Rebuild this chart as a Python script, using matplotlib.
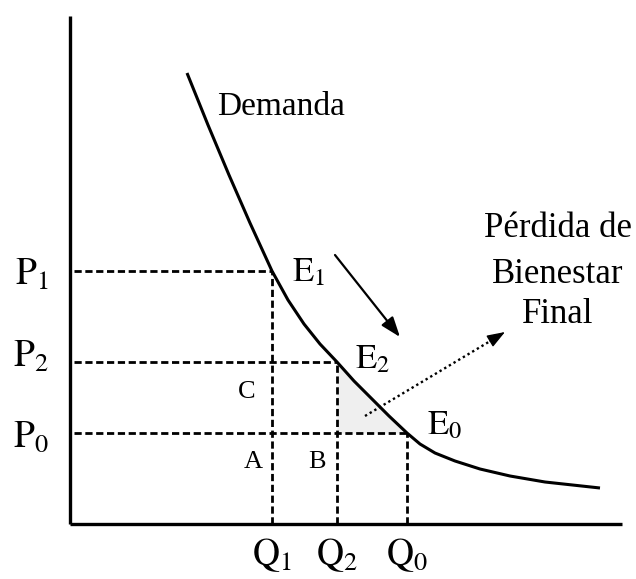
import matplotlib.pyplot as plt

plt.rcParams['font.family'] = ['Liberation Serif', 'DejaVu Serif']
plt.rcParams['mathtext.fontset'] = 'stix'

# Demand curve (quantity, price), origin at the axes corner
demand_q = [117, 138, 159, 180, 202, 218, 234, 250, 267, 284, 301, 319, 337,
            350, 365, 385, 410, 440, 475, 530]
demand_p = [451, 399, 349, 301, 253, 224, 200, 180, 162, 143, 126, 108, 91,
            80, 71, 63, 55, 48, 42, 36]

# Equilibrium points
q_levels = {'Q1': 202, 'Q2': 267, 'Q0': 337}
p_levels = {'P1': 253, 'P2': 162, 'P0': 91}

fig = plt.figure(figsize=(6.36, 5.79), dpi=100)
ax = fig.add_axes([0, 0, 1, 1])
ax.set_xlim(-70, 566)
ax.set_ylim(-55, 524)
ax.axis('off')

# Axes
ax.plot([0, 0], [0, 508], color='black', lw=2.4, solid_capstyle='butt')
ax.plot([0, 552], [0, 0], color='black', lw=2.4, solid_capstyle='butt')

# Shaded welfare loss triangle
tri_q = [q for q in demand_q if q_levels['Q2'] <= q <= q_levels['Q0']]
tri_p = [p for q, p in zip(demand_q, demand_p) if q_levels['Q2'] <= q <= q_levels['Q0']]
ax.fill_between(tri_q, tri_p, p_levels['P0'], color='#efefef', lw=0)

# Dashed guide lines
dash = dict(color='black', lw=2.0, linestyle=(0, (2.6, 1.3)))
for qk, pk in [('Q1', 'P1'), ('Q2', 'P2'), ('Q0', 'P0')]:
    q, p = q_levels[qk], p_levels[pk]
    ax.plot([4, q], [p, p], **dash)
    ax.plot([q, q], [0, p], **dash)

# Demand curve
ax.plot(demand_q, demand_p, color='black', lw=2.2, solid_capstyle='butt',
        solid_joinstyle='round')

# Arrows
ax.annotate('', xy=(330, 187), xytext=(265, 269),
            arrowprops=dict(arrowstyle='-|>,head_length=0.55,head_width=0.2',
                            color='black', lw=1.6, mutation_scale=22,
                            shrinkA=0, shrinkB=0))
ax.plot([295, 427], [108, 187], color='black', lw=1.7, linestyle=(0, (1, 1.3)))
ax.annotate('', xy=(435, 192), xytext=(420, 183),
            arrowprops=dict(arrowstyle='-|>,head_length=0.55,head_width=0.2',
                            color='black', lw=1.0, mutation_scale=20,
                            shrinkA=0, shrinkB=0))

# Axis labels
ax.text(-21, 239, r'$\mathrm{P}_1$', fontsize=27, ha='right', va='baseline')
ax.text(-21, 157, r'$\mathrm{P}_2$', fontsize=27, ha='right', va='baseline')
ax.text(-21, 77, r'$\mathrm{P}_0$', fontsize=27, ha='right', va='baseline')
ax.text(q_levels['Q1'], -41, r'$\mathrm{Q}_1$', fontsize=27, ha='center', va='baseline')
ax.text(q_levels['Q2'], -41, r'$\mathrm{Q}_2$', fontsize=27, ha='center', va='baseline')
ax.text(q_levels['Q0'], -41, r'$\mathrm{Q}_0$', fontsize=27, ha='center', va='baseline')

# Point labels
ax.text(222, 243, r'$\mathrm{E}_1$', fontsize=25, ha='left', va='baseline')
ax.text(285, 156, r'$\mathrm{E}_2$', fontsize=25, ha='left', va='baseline')
ax.text(357, 90, r'$\mathrm{E}_0$', fontsize=25, ha='left', va='baseline')

# Area labels
ax.text(177, 132, 'C', fontsize=19, ha='center', va='center')
ax.text(183, 62, 'A', fontsize=19, ha='center', va='center')
ax.text(247, 62, 'B', fontsize=19, ha='center', va='center')

# Annotations
ax.text(147, 409, 'Demanda', fontsize=24, ha='left', va='baseline')
ax.text(488, 287, 'Pérdida de', fontsize=25, ha='center', va='baseline')
ax.text(488, 241, 'Bienestar', fontsize=25, ha='center', va='baseline')
ax.text(488, 201, 'Final', fontsize=25, ha='center', va='baseline')

fig.savefig('out.png', dpi=100)
